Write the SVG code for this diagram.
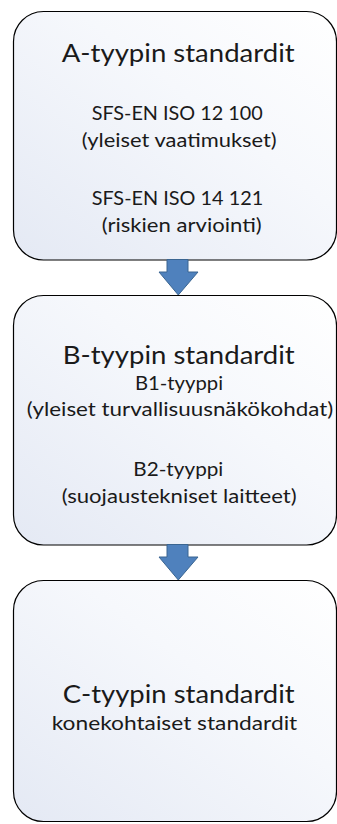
<svg xmlns="http://www.w3.org/2000/svg" width="337" height="824" viewBox="0 0 337 824">
  <style>
    .box { fill: url(#boxFill); stroke: #000; stroke-width: 1.2; }
    .arrow { fill: #4f81bd; stroke: #3a6591; stroke-width: 1; }
    text { font-family: Lato, "Liberation Sans", sans-serif; font-weight: 400; fill: #1a1a1a; }
    .title { font-size: 25.5px; }
    .sub { font-size: 19.5px; }
  </style>
  <defs>
    <linearGradient id="boxFill" x1="0" y1="1" x2="1" y2="0">
      <stop offset="0" stop-color="#e4e9f4"/>
      <stop offset="0.6" stop-color="#f6f8fc"/>
      <stop offset="1" stop-color="#ffffff"/>
    </linearGradient>
  </defs>
  <rect width="337" height="824" fill="#ffffff"/>

  <g id="node-a">
    <rect class="box" x="13.5" y="11.5" width="323" height="248.5" rx="30" ry="30"/>
    <text class="title" x="61.7" y="62" textLength="233" lengthAdjust="spacingAndGlyphs">A-tyypin standardit</text>
    <text class="sub" x="91.7" y="119.5" textLength="171" lengthAdjust="spacingAndGlyphs">SFS-EN ISO 12 100</text>
    <text class="sub" x="81.7" y="146.5" textLength="195" lengthAdjust="spacingAndGlyphs">(yleiset vaatimukset)</text>
    <text class="sub" x="91.7" y="204.5" textLength="171.6" lengthAdjust="spacingAndGlyphs">SFS-EN ISO 14 121</text>
    <text class="sub" x="101.7" y="231.5" textLength="160" lengthAdjust="spacingAndGlyphs">(riskien arviointi)</text>
  </g>

  <g id="node-b">
    <rect class="box" x="13.5" y="295.5" width="323" height="249.5" rx="30" ry="30"/>
    <text class="title" x="62.7" y="363.5" textLength="232" lengthAdjust="spacingAndGlyphs">B-tyypin standardit</text>
    <text class="sub" x="135" y="389.5" textLength="88" lengthAdjust="spacingAndGlyphs">B1-tyyppi</text>
    <text class="sub" x="26.7" y="416" textLength="306.6" lengthAdjust="spacingAndGlyphs">(yleiset turvallisuusnäkökohdat)</text>
    <text class="sub" x="133.3" y="476" textLength="90" lengthAdjust="spacingAndGlyphs">B2-tyyppi</text>
    <text class="sub" x="61.7" y="503" textLength="235" lengthAdjust="spacingAndGlyphs">(suojaustekniset laitteet)</text>
  </g>

  <g id="node-c">
    <rect class="box" x="13.5" y="580.5" width="323" height="241" rx="30" ry="30"/>
    <text class="title" x="62.7" y="703" textLength="232" lengthAdjust="spacingAndGlyphs">C-tyypin standardit</text>
    <text class="sub" x="51.7" y="730" textLength="245.6" lengthAdjust="spacingAndGlyphs">konekohtaiset standardit</text>
  </g>

  <g id="connectors">
    <path class="arrow" d="M167 259.5 H188 V272 H198 L178.3 295 L159 272 H167 Z"/>
    <path class="arrow" d="M167 544.5 H188 V557 H198 L178.3 580 L159 557 H167 Z"/>
  </g>
</svg>
